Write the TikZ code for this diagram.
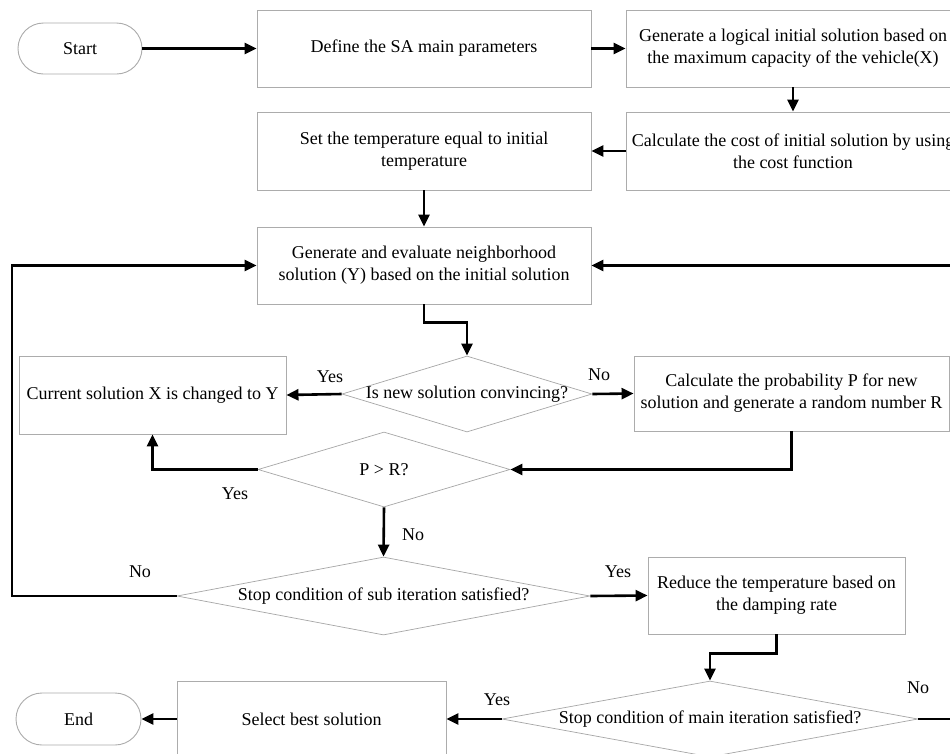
\documentclass[tikz,border=0pt]{standalone}
\usepackage{fontspec}
\setmainfont{Liberation Serif}
\usetikzlibrary{arrows.meta,shapes.geometric,shapes.misc,calc}
\tikzset{
  box/.style={rectangle, draw=gray!65, line width=0.9pt, fill=white, inner sep=2pt, align=center, font=\fontsize{18}{22}\selectfont},
  term/.style={rounded rectangle, draw=gray!65, line width=0.9pt, fill=white, inner sep=2pt, font=\fontsize{18}{22}\selectfont},
  dia/.style={diamond, draw=gray!70, line width=0.7pt, fill=white, inner sep=0pt, font=\fontsize{18}{22}\selectfont},
  arr/.style={line width=2.6pt, -{Triangle[length=12pt,width=11pt]}},
  plain/.style={line width=2.6pt},
  lab/.style={font=\fontsize{18}{22}\selectfont, inner sep=0pt}
}
\newcommand{\zw}[1]{\makebox[0pt][c]{#1}}
\begin{document}
\begin{tikzpicture}[x=1pt,y=-1pt]
\useasboundingbox (0,0) rectangle (950,753);
\clip (0,0) rectangle (950,753);
\fill[white] (0,0) rectangle (950,753);

% nodes
\node[term, minimum width=128pt, minimum height=51pt] (start) at (80,48.5) {Start};
\node[box, minimum width=334pt, minimum height=77pt] (define) at (424,48.5) {Define the SA main parameters};
\node[box, minimum width=334pt, minimum height=77pt] (gen) at (793,48.5) {Generate a logical initial solution based on\\the maximum capacity of the vehicle(X)};
\node[box, minimum width=334pt, minimum height=78pt] (cost) at (793,151) {Calculate the cost of initial solution by using\\the cost function};
\node[box, minimum width=334pt, minimum height=78pt] (settemp) at (424,151) {Set the temperature equal to initial\\temperature};
\node[box, minimum width=334pt, minimum height=77pt] (neigh) at (424,265.5) {Generate and evaluate neighborhood\\solution (Y) based on the initial solution};
\node[dia, minimum width=250pt, minimum height=76pt] (d1) at (467,394) {\zw{Is new solution convincing?}};
\node[box, minimum width=267pt, minimum height=78pt] (cur) at (152.5,395) {Current solution X is changed to Y};
\node[box, minimum width=315pt, minimum height=75pt] (prob) at (791.5,393.5) {Calculate the probability P for new\\solution and generate a random number R};
\node[dia, minimum width=252pt, minimum height=75pt] (d2) at (384,469.5) {\zw{P > R?}};
\node[dia, minimum width=413pt, minimum height=78pt] (d3) at (383.5,596) {\zw{Stop condition of sub iteration satisfied?}};
\node[box, minimum width=257pt, minimum height=77pt] (reduce) at (776.5,595.5) {Reduce the temperature based on\\the damping rate};
\node[dia, minimum width=416pt, minimum height=76pt] (d4) at (710,719) {\zw{Stop condition of main iteration satisfied?}};
\node[box, minimum width=269pt, minimum height=76pt] (select) at (311.5,719) {Select best solution};
\node[term, minimum width=129pt, minimum height=52pt] (end) at (78.5,719) {End};

\coordinate (lx) at (12,0);
\coordinate (rx) at (962,0);

% connectors
\draw[arr] (start.east) -- (define.west);
\draw[arr] (define.east) -- (gen.west);
\draw[arr] (gen.south) -- (cost.north);
\draw[arr] (cost.west) -- (settemp.east);
\draw[arr] (settemp.south) -- (neigh.north);
\draw[arr] (neigh.south) -- ([yshift=-18pt]neigh.south) -| (d1.north);
\draw[arr] (d1.west) -- (cur.east);
\draw[arr] (d1.east) -- (prob.west);
\draw[arr] (prob.south) |- (d2.east);
\draw[arr] (d2.west) -| (cur.south);
\draw[arr] (d2.south) -- (d3.north);
\draw[arr] (d3.west) -- (lx |- d3.west) |- (neigh.west);
\draw[arr] (d3.east) -- (reduce.west);
\draw[arr] (reduce.south) -- ([yshift=-19pt]reduce.south) -| (d4.north);
\draw[arr] (d4.west) -- (select.east);
\draw[arr] (select.west) -- (end.east);
\draw[arr] (d4.east) -- (rx |- d4.east) |- (neigh.east);

% labels
\node[lab] (l1) at (330,377) {Yes};
\node[lab] (l2) at (599,375) {No};
\node[lab] (l3) at (235,494) {Yes};
\node[lab] (l4) at (413,535) {No};
\node[lab] (l5) at (140,572) {No};
\node[lab] (l6) at (618,572) {Yes};
\node[lab] (l7) at (497,700) {Yes};
\node[lab] (l8) at (918,688) {No};
\end{tikzpicture}
\end{document}
